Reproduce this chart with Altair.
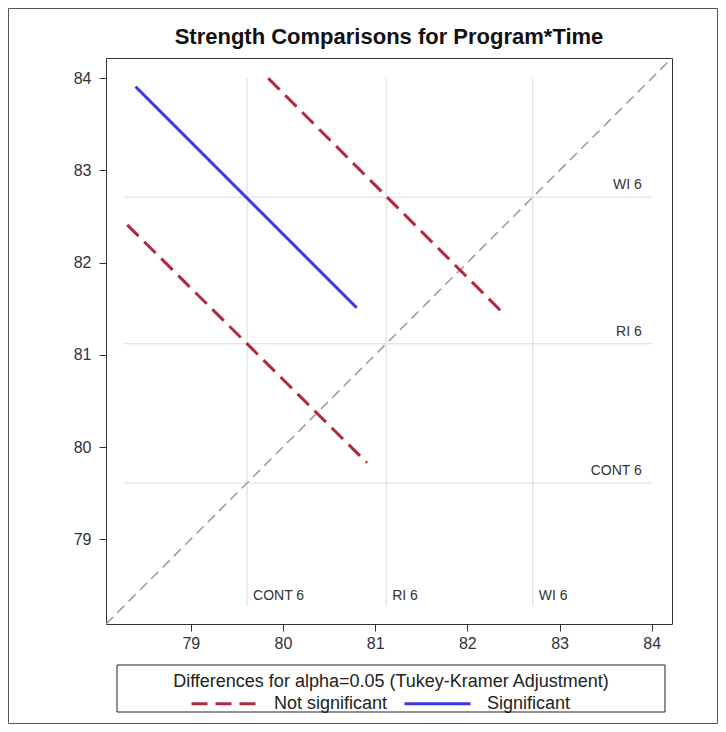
import altair as alt
import pandas as pd

# LS-means of Program*Time levels (reference lines)
levels = ["CONT 6", "RI 6", "WI 6"]
means = [79.61, 81.12, 82.71]

# Difference segments
pair_names = ["RI 6 - WI 6", "CONT 6 - RI 6", "CONT 6 - WI 6"]
significance = ["Not significant", "Not significant", "Significant"]
x_start = [79.84, 78.31, 78.40]
y_start = [84.00, 82.41, 83.91]
x_end = [82.40, 80.91, 80.80]
y_end = [81.44, 79.83, 81.51]

axis_min = 78.08
axis_max = 84.22
ref_start = 78.27
ref_end = 84.0
tick_values = [79, 80, 81, 82, 83, 84]

sig_domain = ["Not significant", "Significant"]
RED = "#B3283E"
BLUE = "#3A3AE4"
FONT = "Liberation Sans"

refs = pd.DataFrame({"level": levels, "mean": means,
                     "start": [ref_start] * 3, "end": [ref_end] * 3})
diffs = pd.DataFrame({"pair": pair_names, "sig": significance,
                      "x1": x_start, "y1": y_start, "x2": x_end, "y2": y_end})
diag = pd.DataFrame({"x": [axis_min, axis_max], "y": [axis_min, axis_max]})
one = pd.DataFrame({"k": [0]})

xscale = alt.Scale(domain=[axis_min, axis_max], nice=False, zero=False)
yscale = alt.Scale(domain=[axis_min, axis_max], nice=False, zero=False)
xaxis = alt.Axis(values=tick_values, title=None, grid=False, domain=False, labelPadding=4)
yaxis = alt.Axis(values=tick_values, title=None, grid=False, domain=False, labelPadding=8)

hrefs = alt.Chart(refs).mark_rule(color="#DCDCDC", strokeWidth=1).encode(
    x=alt.X("start:Q", scale=xscale, axis=xaxis),
    x2="end:Q",
    y=alt.Y("mean:Q", scale=yscale, axis=yaxis),
)
vrefs = alt.Chart(refs).mark_rule(color="#DCDCDC", strokeWidth=1).encode(
    x=alt.X("mean:Q", scale=xscale, axis=xaxis),
    y=alt.Y("start:Q", scale=yscale, axis=yaxis),
    y2="end:Q",
)
hlabels = alt.Chart(refs).mark_text(
    align="right", baseline="alphabetic", dx=-10, dy=-8,
    font=FONT, fontSize=14, color="#333333"
).encode(
    x=alt.X("end:Q", scale=xscale, axis=xaxis),
    y=alt.Y("mean:Q", scale=yscale, axis=yaxis),
    text="level:N",
)
vlabels = alt.Chart(refs).mark_text(
    align="left", baseline="alphabetic", dx=6, dy=-6,
    font=FONT, fontSize=14, color="#333333"
).encode(
    x=alt.X("mean:Q", scale=xscale, axis=xaxis),
    y=alt.Y("start:Q", scale=yscale, axis=yaxis),
    text="level:N",
)
diagonal = alt.Chart(diag).mark_line(
    color="#9A9A9A", strokeWidth=1.5, strokeDash=[10, 6], clip=True
).encode(
    x=alt.X("x:Q", scale=xscale, axis=xaxis),
    y=alt.Y("y:Q", scale=yscale, axis=yaxis),
)

legend = alt.Legend(
    title="Differences for alpha=0.05 (Tukey-Kramer Adjustment)",
    orient="none", legendX=67, legendY=615, direction="horizontal",
    titleAnchor="middle", titleAlign="center", titleOrient="top", titleLimit=800,
    titleFont=FONT, titleFontSize=18, titleFontWeight="normal", titleColor="#222222",
    labelFont=FONT, labelFontSize=18, labelColor="#222222", labelLimit=400,
    symbolType="M-3,0H3", symbolSize=484, symbolStrokeWidth=3,
    labelOffset=37, columnPadding=10, titlePadding=0,
)
lines = alt.Chart(diffs).mark_rule(strokeWidth=3).encode(
    x=alt.X("x1:Q", scale=xscale, axis=xaxis),
    y=alt.Y("y1:Q", scale=yscale, axis=yaxis),
    x2="x2:Q",
    y2="y2:Q",
    color=alt.Color("sig:N", scale=alt.Scale(domain=sig_domain, range=[RED, BLUE]), legend=legend),
    strokeDash=alt.StrokeDash("sig:N", scale=alt.Scale(domain=sig_domain, range=[[16, 8], [1, 0]]), legend=legend),
)

legend_box = alt.Chart(one).mark_rect(
    fillOpacity=0, stroke="#222222", strokeWidth=1, clip=False
).encode(x=alt.value(11), x2=alt.value(559), y=alt.value(607), y2=alt.value(654))

outer_box = alt.Chart(one).mark_rect(
    fillOpacity=0, stroke="#555555", strokeWidth=1, clip=False
).encode(x=alt.value(-97.5), x2=alt.value(611.5), y=alt.value(-49.5), y2=alt.value(665.5))

chart = alt.layer(
    hrefs, vrefs, hlabels, vlabels, diagonal, lines, legend_box, outer_box
).properties(
    width=566, height=566,
    title=alt.TitleParams("Strength Comparisons for Program*Time", anchor="middle", frame="group",
                          font=FONT, fontSize=22, fontWeight="bold", color="#111111",
                          offset=0, dy=41),
    autosize=alt.AutoSizeParams(type="none"),
    padding={"left": 98, "top": 50, "right": 46, "bottom": 100},
    background="white",
).configure_view(
    stroke="#333333", strokeWidth=1
).configure_axis(
    tickColor="#333333", tickSize=7, labelColor="#333333",
    labelFont=FONT, labelFontSize=16,
)

chart.save("out.html", embed_options={"renderer": "svg", "actions": False})
